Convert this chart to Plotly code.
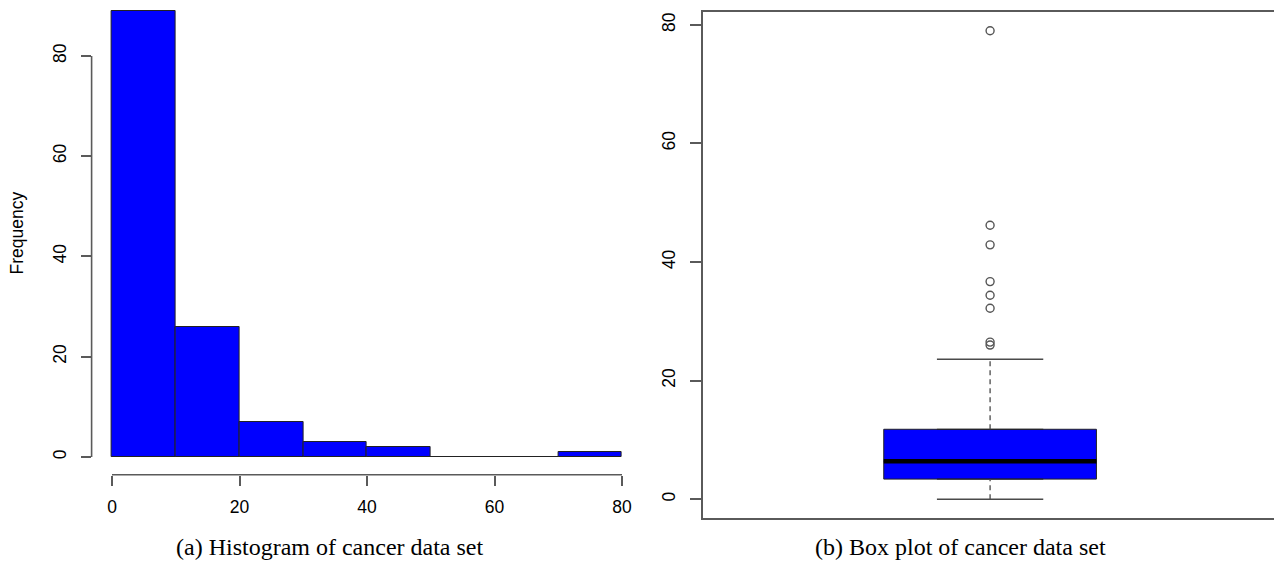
import plotly.graph_objects as go

# ---------------- data ----------------
bin_starts = [0, 10, 20, 30, 40, 50, 60, 70]
bin_counts = [89, 26, 7, 3, 2, 0, 0, 1]
hist_xticks = [0, 20, 40, 60, 80]
hist_yticks = [0, 20, 40, 60, 80]

box_q1 = 3.4
box_median = 6.4
box_q3 = 11.8
box_lower = 0.0
box_upper = 23.6
box_outliers = [79.0, 46.2, 42.9, 36.7, 34.4, 32.2, 26.5, 26.0]
box_yticks = [0, 20, 40, 60, 80]

caption_a = "(a) Histogram of cancer data set"
caption_b = "(b) Box plot of cancer data set"
ylabel_a = "Frequency"

# ---------------- layout helpers ----------------
W, H = 1274, 568
def px(x):
    return x / W
def py(y):
    return 1 - y / H

AXC = "#5a5a5a"
TICKFONT = dict(family="Liberation Sans, Arial, sans-serif", size=17.5, color="#000000")
CAPFONT = dict(family="Liberation Serif, Times New Roman, serif", size=24, color="#000000")
BLUE = "#0000FF"

fig = go.Figure()

# Histogram bars
fig.add_trace(go.Bar(
    x=bin_starts, y=bin_counts, width=10, offset=0,
    marker=dict(color=BLUE, line=dict(color="#222222", width=1)),
    xaxis="x", yaxis="y", showlegend=False, hoverinfo="skip",
))

# Box plot body (native box with precomputed statistics)
fig.add_trace(go.Box(
    x=[1], q1=[box_q1], median=[box_median], q3=[box_q3],
    lowerfence=[box_q1], upperfence=[box_q3], width=0.4,
    fillcolor=BLUE, line=dict(color="#222222", width=1),
    boxpoints=False, xaxis="x2", yaxis="y2", showlegend=False, hoverinfo="skip",
))
# thick median line
fig.add_trace(go.Scatter(
    x=[0.8, 1.2], y=[box_median, box_median], mode="lines",
    line=dict(color="black", width=4.5), xaxis="x2", yaxis="y2",
    showlegend=False, hoverinfo="skip",
))
# dashed whiskers
fig.add_trace(go.Scatter(
    x=[1, 1, None, 1, 1], y=[box_q3, box_upper, None, box_lower, box_q1],
    mode="lines", line=dict(color="#4a4a4a", width=1.3, dash="5px,4px"),
    xaxis="x2", yaxis="y2", showlegend=False, hoverinfo="skip",
))
# whisker caps
fig.add_trace(go.Scatter(
    x=[0.9, 1.1, None, 0.9, 1.1], y=[box_upper, box_upper, None, box_lower, box_lower],
    mode="lines", line=dict(color="#4a4a4a", width=1.5),
    xaxis="x2", yaxis="y2", showlegend=False, hoverinfo="skip",
))
# outliers
fig.add_trace(go.Scatter(
    x=[1] * len(box_outliers), y=box_outliers, mode="markers",
    marker=dict(symbol="circle-open", size=8, color="#555555", line=dict(width=1.4)),
    xaxis="x2", yaxis="y2", showlegend=False, hoverinfo="skip",
))

shapes = [
    # R-style detached axis lines for the histogram (span first..last tick)
    dict(type="line", xref="x", yref="y domain", x0=hist_xticks[0], x1=hist_xticks[-1],
         y0=0, y1=0, line=dict(color=AXC, width=1.6)),
    dict(type="line", xref="x domain", yref="y", x0=0, x1=0,
         y0=hist_yticks[0], y1=hist_yticks[-1], line=dict(color=AXC, width=1.6)),
]

fig.update_layout(
    width=W, height=H,
    margin=dict(l=0, r=0, t=0, b=0),
    paper_bgcolor="white", plot_bgcolor="white",
    bargap=0,
    xaxis=dict(
        domain=[px(91.6), px(642.4)], range=[-3.2, 83.2],
        tickmode="array", tickvals=hist_xticks, ticktext=[str(v) for v in hist_xticks],
        ticks="outside", ticklen=10, tickwidth=1.6, tickcolor=AXC,
        showline=False, showgrid=False, zeroline=False,
        tickfont=TICKFONT, ticklabelstandoff=6,
        anchor="y", fixedrange=True,
    ),
    yaxis=dict(
        domain=[py(474.8), 1], range=[-3.56, 91.17],
        tickmode="array", tickvals=hist_yticks, ticktext=[str(v) for v in hist_yticks],
        ticks="outside", ticklen=10, tickwidth=1.6, tickcolor=AXC,
        showline=False, showgrid=False, zeroline=False,
        tickfont=TICKFONT, tickangle=-90, ticklabelstandoff=8,
        anchor="x", fixedrange=True,
    ),
    xaxis2=dict(
        domain=[px(703), 1], range=[0.46, 1.534],
        showticklabels=False, ticks="",
        showline=True, mirror=True, linecolor=AXC, linewidth=1.8,
        showgrid=False, zeroline=False, anchor="y2", fixedrange=True,
    ),
    yaxis2=dict(
        domain=[py(518), py(12)], range=[-3.16, 82.16],
        tickmode="array", tickvals=box_yticks, ticktext=[str(v) for v in box_yticks],
        ticks="outside", ticklen=11, tickwidth=1.6, tickcolor=AXC,
        showline=True, mirror=False, linecolor=AXC, linewidth=1.8,
        showgrid=False, zeroline=False,
        tickfont=TICKFONT, tickangle=-90, ticklabelstandoff=8,
        anchor="x2", fixedrange=True,
    ),
    shapes=shapes,
    annotations=[
        dict(text=ylabel_a, xref="paper", yref="paper", x=px(16), y=py(233.5),
             showarrow=False, textangle=-90, font=TICKFONT,
             xanchor="center", yanchor="middle"),
        dict(text=caption_a, xref="paper", yref="paper", x=px(330), y=py(547),
             showarrow=False, font=CAPFONT, xanchor="center", yanchor="middle"),
        dict(text=caption_b, xref="paper", yref="paper", x=px(960), y=py(547),
             showarrow=False, font=CAPFONT, xanchor="center", yanchor="middle"),
    ],
)

fig.write_html("out.html")
